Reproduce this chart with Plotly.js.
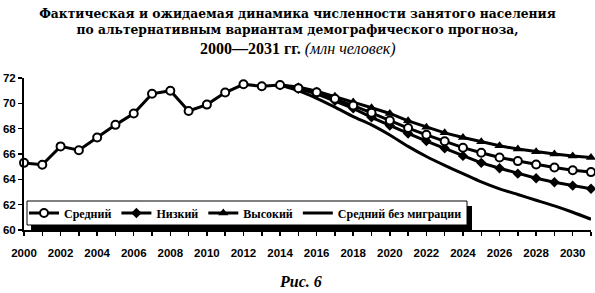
<!DOCTYPE html>
<html>
<head>
<meta charset="utf-8">
<script src="https://cdn.plot.ly/plotly-3.0.1.min.js"></script>
<style>html,body{margin:0;padding:0;background:#fff;}#chart{width:595px;height:293px;}</style>
</head>
<body>
<div id="chart"></div>
<script>
// ---- data ----
const years = [2000,2001,2002,2003,2004,2005,2006,2007,2008,2009,2010,2011,2012,2013,2014,2015,
               2016,2017,2018,2019,2020,2021,2022,2023,2024,2025,2026,2027,2028,2029,2030,2031];
const medium = [65.3,65.15,66.6,66.3,67.3,68.3,69.2,70.75,71.0,69.4,69.9,70.85,71.5,71.35,71.45,71.2,
                70.88,70.36,69.82,69.25,68.64,68.05,67.51,67.0,66.5,66.1,65.73,65.44,65.17,64.93,64.72,64.57];
const forecastYears = [2014,2015,2016,2017,2018,2019,2020,2021,2022,2023,2024,2025,2026,2027,2028,2029,2030,2031];
const high  = [71.45,71.3,70.95,70.55,70.1,69.65,69.2,68.62,68.12,67.67,67.3,66.96,66.65,66.39,66.17,66.0,65.85,65.72];
const low   = [71.45,71.15,70.75,70.2,69.6,68.9,68.25,67.62,67.02,66.45,65.85,65.3,64.88,64.45,64.08,63.77,63.5,63.26];
const noMig = [71.45,71.0,70.4,69.7,68.95,68.3,67.5,66.6,65.8,65.1,64.45,63.8,63.25,62.8,62.35,61.9,61.4,60.85];
const seriesNames = ["Средний","Низкий","Высокий","Средний без миграции"];
const xTickVals = [2000,2002,2004,2006,2008,2010,2012,2014,2016,2018,2020,2022,2024,2026,2028,2030];
const yTickVals = [60,62,64,66,68,70,72];

const W = 595, H = 293;
const M = {l:24, r:4, t:78, b:63};
const pw = W - M.l - M.r, ph = H - M.t - M.b;
const px2x = p => (p - M.l) / pw;
const py2y = p => (H - M.b - p) / ph;

const tickFont = {family:"Liberation Sans, Arial", size:11.5, color:"#000", weight:700};

const traces = [
  {x:forecastYears, y:noMig, name:seriesNames[3], type:"scatter", mode:"lines",
   line:{color:"#000", width:3, shape:"spline", smoothing:0.6}, legendrank:4, cliponaxis:false},
  {x:forecastYears, y:low, name:seriesNames[1], type:"scatter", mode:"lines+markers",
   line:{color:"#000", width:3}, marker:{symbol:"diamond", size:8, color:"#000"}, legendrank:2, cliponaxis:false},
  {x:forecastYears, y:high, name:seriesNames[2], type:"scatter", mode:"lines+markers",
   line:{color:"#000", width:3}, marker:{symbol:"triangle-up", size:9, color:"#000"}, legendrank:3, cliponaxis:false},
  {x:years, y:medium, name:seriesNames[0], type:"scatter", mode:"lines+markers",
   line:{color:"#000", width:3}, marker:{symbol:"circle", size:8, color:"#fff", line:{color:"#000", width:2}},
   legendrank:1, cliponaxis:false}
];

const layout = {
  width:W, height:H, margin:M, paper_bgcolor:"#fff", plot_bgcolor:"#fff",
  showlegend:true,
  title:{
    text:"<b>Фактическая и ожидаемая динамика численности занятого населения<br>по альтернативным вариантам демографического прогноза,</b>",
    font:{family:"DejaVu Serif", size:12.3, color:"#000"},
    x:0.5, xanchor:"center", xref:"container", y:(H-18)/H, yanchor:"top", yref:"container"
  },
  xaxis:{
    range:[2000,2031], tickvals:xTickVals, ticks:"outside", ticklen:4, tickwidth:1.5, tickcolor:"#000",
    showline:true, linecolor:"#000", linewidth:2, showgrid:false, zeroline:false,
    tickfont:tickFont, ticklabelstandoff:7,
    minor:{dtick:1, tick0:2000, ticks:"outside", ticklen:4, tickwidth:1.5, tickcolor:"#000", showgrid:false}
  },
  yaxis:{
    range:[60,72], tickvals:yTickVals, ticks:"outside", ticklen:4, tickwidth:1.5, tickcolor:"#000",
    showline:true, linecolor:"#000", linewidth:2, showgrid:false, zeroline:false,
    tickfont:tickFont
  },
  legend:{
    orientation:"h", x:0, xanchor:"left", y:py2y(213), yanchor:"middle",
    bgcolor:"rgba(0,0,0,0)", borderwidth:0,
    font:{family:"Liberation Serif", size:12, color:"#000", weight:700},
    traceorder:"normal"
  },
  shapes:[
    {type:"rect", xref:"paper", yref:"paper", layer:"above",
     x0:px2x(31), x1:px2x(472), y0:py2y(231), y1:py2y(206), fillcolor:"#000", line:{width:0}},
    {type:"rect", xref:"paper", yref:"paper", layer:"above",
     x0:px2x(27), x1:px2x(467), y0:py2y(225), y1:py2y(201), fillcolor:"#fff", line:{color:"#000", width:1}}
  ],
  annotations:[
    {text:"<b>2000—2031 гг.</b> <i>(млн человек)</i>", xref:"paper", yref:"paper", x:px2x(298), y:py2y(49),
     xanchor:"center", yanchor:"middle", showarrow:false,
     font:{family:"Liberation Serif", size:16, color:"#000"}},
    {text:"<b><i>Рис. 6</i></b>", xref:"paper", yref:"paper", x:px2x(300), y:py2y(281),
     xanchor:"center", yanchor:"middle", showarrow:false,
     font:{family:"Liberation Serif", size:16, color:"#000"}}
  ]
};

Plotly.newPlot("chart", traces, layout, {displayModeBar:false, staticPlot:true});
</script>
</body>
</html>
